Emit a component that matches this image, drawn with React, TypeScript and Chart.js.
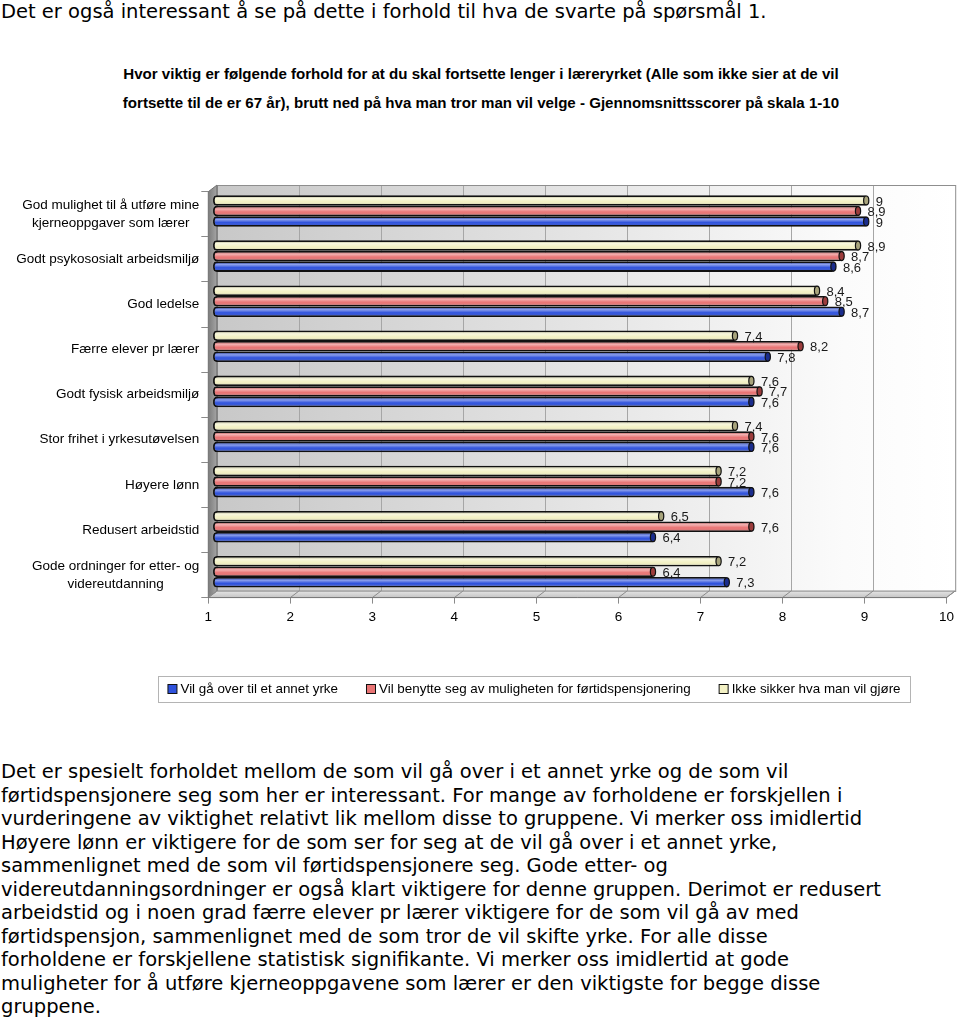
import React, { useEffect, useRef } from "react";
import { Chart, registerables } from "chart.js";

Chart.register(...registerables);

// ---------- data ----------
const categories: (string | string[])[] = [
  ["God mulighet til å utføre mine", "kjerneoppgaver som lærer"],
  "Godt psykososialt arbeidsmiljø",
  "God ledelse",
  "Færre elever pr lærer",
  "Godt fysisk arbeidsmiljø",
  "Stor frihet i yrkesutøvelsen",
  "Høyere lønn",
  "Redusert arbeidstid",
  ["Gode ordninger for etter- og", "videreutdanning"],
];

const seriesNames = [
  "Vil gå over til et annet yrke",
  "Vil benytte seg av muligheten for førtidspensjonering",
  "Ikke sikker hva man vil gjøre",
];

const vilGaaOver = [9, 8.6, 8.7, 7.8, 7.6, 7.6, 7.6, 6.4, 7.3];
const fortidspensjon = [8.9, 8.7, 8.5, 8.2, 7.7, 7.6, 7.2, 7.6, 6.4];
const ikkeSikker = [9, 8.9, 8.4, 7.4, 7.6, 7.4, 7.2, 6.5, 7.2];

const xMin = 1;
const xMax = 10;
const xStep = 1;

const introText = "Det er også interessant å se på dette i forhold til hva de svarte på spørsmål 1.";
const titleLines = [
  "Hvor viktig er følgende forhold for at du skal fortsette lenger i læreryrket (Alle som ikke sier at de vil",
  "fortsette til de er 67 år), brutt ned på hva man tror man vil velge - Gjennomsnittsscorer på skala 1-10",
];
const paragraphLines = [
  "Det er spesielt forholdet mellom de som vil gå over i et annet yrke og de som vil",
  "førtidspensjonere seg som her er interessant. For mange av forholdene er forskjellen i",
  "vurderingene av viktighet relativt lik mellom disse to gruppene. Vi merker oss imidlertid",
  "Høyere lønn er viktigere for de som ser for seg at de vil gå over i et annet yrke,",
  "sammenlignet med de som vil førtidspensjonere seg. Gode etter- og",
  "videreutdanningsordninger er også klart viktigere for denne gruppen. Derimot er redusert",
  "arbeidstid og i noen grad færre elever pr lærer viktigere for de som vil gå av med",
  "førtidspensjon, sammenlignet med de som tror de vil skifte yrke. For alle disse",
  "forholdene er forskjellene statistisk signifikante. Vi merker oss imidlertid at gode",
  "muligheter for å utføre kjerneoppgavene som lærer er den viktigste for begge disse",
  "gruppene.",
];

// ---------- styling ----------
const BLUE = "#2f52dc";
const RED = "#e97474";
const YELLOW = "#f3f1c4";
const BLUE_CAP = "#1a2c8c";
const RED_CAP = "#9c3c3c";
const YELLOW_CAP = "#a8a47c";

const CANVAS_TOP = 170;
const CANVAS_W = 960;
const CANVAS_H = 550;
const AREA_LEFT = 208.3;
const AREA_RIGHT = 947.7;
const AREA_TOP = 191.7;
const AREA_BOTTOM = 597.6;
const DX = 8.5;
const DY = -6.5;

const fmt = (v: number) => String(v).replace(".", ",");

export default function App() {
  const ref = useRef<HTMLCanvasElement>(null);

  useEffect(() => {
    const canvas = ref.current!;
    const capColors = [YELLOW_CAP, RED_CAP, BLUE_CAP];

    const threeD = {
      id: "threeD",
      beforeDraw(chart: any) {
        const { ctx, chartArea } = chart;
        const xs = chart.scales.x;
        const l = chartArea.left, r = chartArea.right, t = chartArea.top, b = chartArea.bottom;
        ctx.save();
        // back wall
        const g = ctx.createLinearGradient(l + DX, 0, r + DX, 0);
        g.addColorStop(0, "#c8c8c8");
        g.addColorStop(0.45, "#e2e2e2");
        g.addColorStop(0.85, "#fbfbfb");
        g.addColorStop(1, "#ffffff");
        ctx.fillStyle = g;
        ctx.fillRect(l + DX, t + DY, r - l, b - t);
        // back gridlines
        ctx.strokeStyle = "#a6a6a6";
        ctx.lineWidth = 1;
        for (let v = xMin + xStep; v < xMax; v += xStep) {
          const px = Math.round(xs.getPixelForValue(v) + DX) + 0.5;
          ctx.beginPath();
          ctx.moveTo(px, t + DY);
          ctx.lineTo(px, b + DY);
          ctx.stroke();
        }
        // wall border
        ctx.strokeStyle = "#8e8e8e";
        ctx.strokeRect(Math.round(l + DX) + 0.5, Math.round(t + DY) + 0.5, r - l, b - t);
        // left wall
        const lg = ctx.createLinearGradient(l, 0, l + DX, 0);
        lg.addColorStop(0, "#7c7c7c");
        lg.addColorStop(1, "#a4a4a4");
        ctx.fillStyle = lg;
        ctx.beginPath();
        ctx.moveTo(l, t);
        ctx.lineTo(l + DX, t + DY);
        ctx.lineTo(l + DX, b + DY);
        ctx.lineTo(l, b);
        ctx.closePath();
        ctx.fill();
        ctx.strokeStyle = "#6e6e6e";
        ctx.stroke();
        // floor
        const fg = ctx.createLinearGradient(0, b + DY, 0, b);
        fg.addColorStop(0, "#e4e4e4");
        fg.addColorStop(1, "#c4c4c4");
        ctx.fillStyle = fg;
        ctx.beginPath();
        ctx.moveTo(l, b);
        ctx.lineTo(l + DX, b + DY);
        ctx.lineTo(r + DX, b + DY);
        ctx.lineTo(r, b);
        ctx.closePath();
        ctx.fill();
        ctx.strokeStyle = "#8a8a8a";
        ctx.stroke();
        for (let v = xMin; v <= xMax; v += xStep) {
          const px = xs.getPixelForValue(v);
          ctx.beginPath();
          ctx.moveTo(px, b);
          ctx.lineTo(px + DX, b + DY);
          ctx.stroke();
        }
        ctx.restore();
      },
      beforeDatasetsDraw(chart: any) {
        chart.ctx.save();
        chart.ctx.translate(DX / 2, DY / 2);
      },
      afterDatasetsDraw(chart: any) {
        const ctx = chart.ctx;
        chart.data.datasets.forEach((ds: any, di: number) => {
          const meta = chart.getDatasetMeta(di);
          meta.data.forEach((el: any, i: number) => {
            const { x, y, base, height } = el.getProps(["x", "y", "base", "height"], true);
            const h = height;
            const top = y - h / 2;
            // cylinder shading
            ctx.save();
            ctx.beginPath();
            ctx.roundRect(base + 1.8, top + 1.8, x - base - 3.6, h - 3.6, 3);
            ctx.clip();
            const gr = ctx.createLinearGradient(0, top, 0, top + h);
            gr.addColorStop(0, "rgba(0,0,0,0.10)");
            gr.addColorStop(0.3, "rgba(255,255,255,0.45)");
            gr.addColorStop(0.6, "rgba(255,255,255,0.0)");
            gr.addColorStop(1, "rgba(0,0,0,0.28)");
            ctx.fillStyle = gr;
            ctx.fillRect(base, top, x - base, h);
            ctx.restore();
            // end cap
            ctx.save();
            ctx.beginPath();
            ctx.ellipse(x - 2.5, y, 2.6, h / 2 - 0.8, 0, 0, Math.PI * 2);
            ctx.fillStyle = capColors[di];
            ctx.fill();
            ctx.lineWidth = 1.2;
            ctx.strokeStyle = "#111";
            ctx.stroke();
            ctx.restore();
            // value label
            ctx.save();
            ctx.font = "13px 'Liberation Sans', Arial, sans-serif";
            ctx.fillStyle = "#1a1a1a";
            ctx.textAlign = "left";
            ctx.textBaseline = "middle";
            ctx.fillText(fmt(ds.data[i]), x + 7, y + 1.5);
            ctx.restore();
          });
        });
        ctx.restore();
      },
      afterDraw(chart: any) {
        const { ctx, chartArea } = chart;
        const ys = chart.scales.y;
        ctx.save();
        // category labels
        ctx.font = "13.5px 'Liberation Sans', Arial, sans-serif";
        ctx.fillStyle = "#000";
        ctx.textBaseline = "middle";
        const lineH = 18;
        const rightX = chartArea.left - 9;
        chart.data.labels.forEach((lab: any, i: number) => {
          const lines: string[] = Array.isArray(lab) ? lab : [lab];
          const cy = ys.getPixelForTick(i);
          const widths = lines.map((s) => ctx.measureText(s).width);
          const bw = Math.max(...widths);
          const cx = rightX - bw / 2;
          ctx.textAlign = "center";
          lines.forEach((s, k) => {
            const ly = cy + (k - (lines.length - 1) / 2) * lineH;
            ctx.fillText(s, cx, ly);
          });
        });
        // legend
        const boxX = 158, boxY = 676 - CANVAS_TOP, boxW = 752, boxH = 26;
        ctx.strokeStyle = "#b4b4b4";
        ctx.lineWidth = 1;
        ctx.strokeRect(boxX + 0.5, boxY + 0.5, boxW, boxH);
        ctx.font = "13.4px 'Liberation Sans', Arial, sans-serif";
        const order = [2, 1, 0];
        const gap = 28;
        const items = order.map((di) => {
          const ds = chart.data.datasets[di];
          return { ds, w: 13 + ctx.measureText(ds.label).width };
        });
        const total = items.reduce((a, it) => a + it.w, 0) + gap * (items.length - 1);
        let px = boxX + (boxW - total) / 2;
        const cy = boxY + boxH / 2 + 0.5;
        items.forEach((it) => {
          ctx.fillStyle = it.ds.backgroundColor;
          ctx.fillRect(px + 0.5, cy - 5, 9, 9);
          ctx.strokeStyle = "#111";
          ctx.strokeRect(px + 0.5, cy - 5, 9, 9);
          ctx.fillStyle = "#000";
          ctx.textAlign = "left";
          ctx.textBaseline = "middle";
          ctx.fillText(it.ds.label, px + 13, cy);
          px += it.w + gap;
        });
        ctx.restore();
      },
    };

    const barCommon = {
      base: xMin,
      borderColor: "#111111",
      borderWidth: 1.8,
      borderRadius: 4,
      borderSkipped: false,
      categoryPercentage: 0.7,
      barPercentage: 1,
      clip: false,
    };

    const chart = new Chart(canvas, {
      type: "bar",
      data: {
        labels: categories,
        datasets: [
          { label: seriesNames[2], data: ikkeSikker, backgroundColor: YELLOW, ...barCommon },
          { label: seriesNames[1], data: fortidspensjon, backgroundColor: RED, ...barCommon },
          { label: seriesNames[0], data: vilGaaOver, backgroundColor: BLUE, ...barCommon },
        ],
      } as any,
      options: {
        indexAxis: "y",
        responsive: false,
        animation: false,
        devicePixelRatio: 1,
        layout: {
          padding: {
            left: 0,
            right: CANVAS_W - AREA_RIGHT,
            top: AREA_TOP - CANVAS_TOP,
            bottom: 0,
          },
        },
        plugins: {
          legend: { display: false },
          tooltip: { enabled: false },
          title: { display: false },
        },
        scales: {
          x: {
            type: "linear",
            min: xMin,
            max: xMax,
            ticks: {
              stepSize: xStep,
              color: "#000",
              padding: 6,
              font: { family: "'Liberation Sans', Arial, sans-serif", size: 13.5 },
              callback: (v: any) => String(v),
            },
            grid: { drawOnChartArea: false, drawTicks: true, tickLength: 6, color: "#8a8a8a" },
            border: { display: true, color: "#7a7a7a" },
            afterFit: (s: any) => {
              s.height = CANVAS_H - (AREA_BOTTOM - CANVAS_TOP);
            },
          },
          y: {
            type: "category",
            ticks: { display: false },
            grid: { drawOnChartArea: false, drawTicks: true, tickLength: 7, color: "#8a8a8a" },
            border: { display: true, color: "#7a7a7a" },
            afterFit: (s: any) => {
              s.width = AREA_LEFT;
            },
          },
        },
      } as any,
      plugins: [threeD],
    });
    return () => chart.destroy();
  }, []);

  const bodyFont = "'DejaVu Sans', Verdana, sans-serif";

  return (
    <div style={{ position: "absolute", left: 0, top: 0, width: 960, height: 1019, background: "#fff", overflow: "hidden" }}>
      <div
        style={{
          position: "absolute",
          left: 1,
          top: 0,
          fontFamily: bodyFont,
          fontSize: 19.5,
          lineHeight: "24px",
          whiteSpace: "nowrap",
          color: "#000",
        }}
      >
        {introText}
      </div>
      <div
        style={{
          position: "absolute",
          left: 0,
          top: 58.5,
          width: 962,
          textAlign: "center",
          fontFamily: "'Liberation Sans', Arial, sans-serif",
          fontWeight: "bold",
          fontSize: 15.1,
          lineHeight: "29px",
          whiteSpace: "nowrap",
          color: "#000",
        }}
      >
        {titleLines.map((s, i) => (
          <div key={i}>{s}</div>
        ))}
      </div>
      <canvas
        ref={ref}
        width={CANVAS_W}
        height={CANVAS_H}
        style={{ position: "absolute", left: 0, top: CANVAS_TOP, width: CANVAS_W, height: CANVAS_H }}
      />
      <div
        style={{
          position: "absolute",
          left: 1,
          top: 760.25,
          fontFamily: bodyFont,
          fontSize: 19.5,
          lineHeight: "23.5px",
          whiteSpace: "nowrap",
          color: "#000",
        }}
      >
        {paragraphLines.map((s, i) => (
          <div key={i}>{s}</div>
        ))}
      </div>
    </div>
  );
}
